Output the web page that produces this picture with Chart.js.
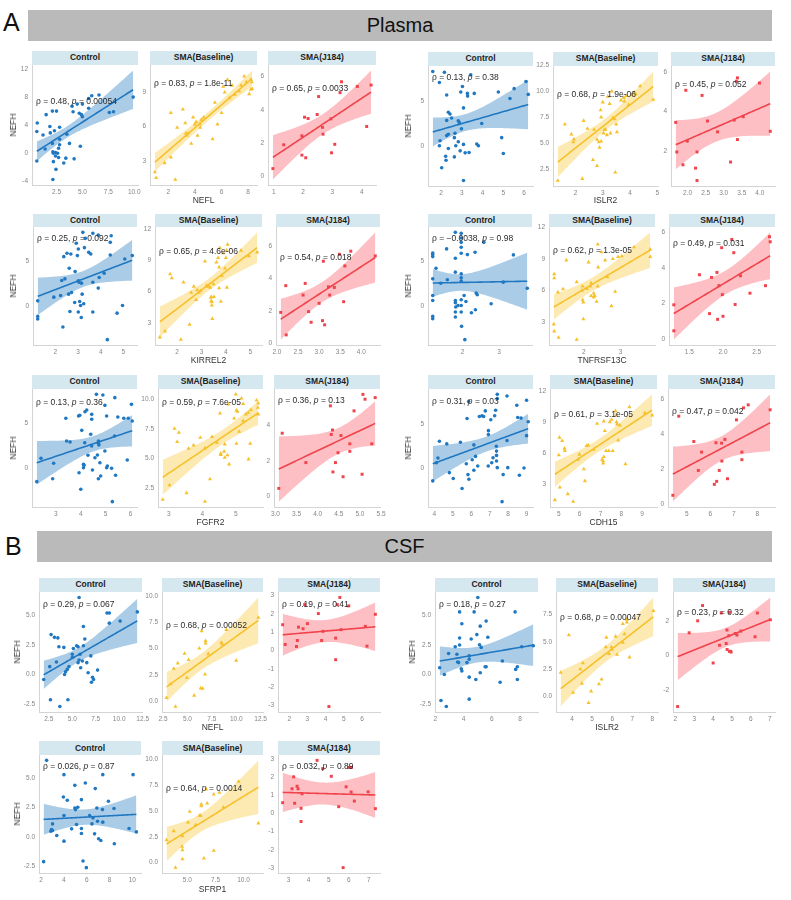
<!DOCTYPE html>
<html lang="en">
<head>
<meta charset="UTF-8">
<title>NEFH correlations - Plasma / CSF</title>
<script src="https://cdn.jsdelivr.net/npm/chart.js@4.4.1/dist/chart.umd.min.js"></script>
<style>
  html, body { margin: 0; padding: 0; background: #fff; }
  body { width: 791px; height: 900px; position: relative; overflow: hidden;
         font-family: 'Liberation Sans', Arial, sans-serif; }
  .banner { position: absolute; background: #bababa; color: #111; text-align: center;
            font-family: 'Liberation Sans Narrow', 'Liberation Sans', Arial, sans-serif; font-size: 20px; }
  .tag { position: absolute; font-family: 'Liberation Sans Narrow', 'Liberation Sans', Arial, sans-serif;
         font-size: 25px; color: #111; line-height: 1; }
  .strip { position: absolute; background: #d5e7ef; color: #1e1e1e; font-weight: bold;
           font-size: 8.5px; text-align: center; white-space: nowrap; }
  .axt { position: absolute; font-size: 8.5px; color: #333; white-space: nowrap;
         transform: translate(-50%, -50%); }
  .axt.rot { transform: translate(-50%, -50%) rotate(-90deg); }
  canvas { position: absolute; }
</style>
</head>
<body>
<div class="tag" style="left:3px;top:10px;">A</div>
<div class="banner" style="left:28px;top:10px;width:744px;height:31px;line-height:31px;">Plasma</div>
<div class="tag" style="left:5px;top:534px;">B</div>
<div class="banner" style="left:37px;top:531px;width:735px;height:31px;line-height:31px;">CSF</div>

<script>
// ---------- Plasma: NEFL ----------
const pNEFL_ctrl_x = [0.64,0.6,0.6,1.2,1.5,1.4,1.86,1.9,2.1,2.1,2.15,2.2,2.15,2.3,2.4,2.45,2.5,2.6,2.7,2.8,2.8,2.8,2.7,2.2,2.4,3.2,3.4,3.5,3.75,4.0,4.1,4.2,4.5,4.7,4.8,4.9,5.0,5.0,5.6,5.9,5.6,6.6,7.6,8.0,9.9];
const pNEFL_ctrl_y = [4.3,3.1,-1.1,2.6,5.5,0.6,3.8,2.9,6.0,1.4,0.2,-1.2,-3.75,3.2,-0.4,-2.3,6.0,0,-0.6,3.7,1.2,2.0,0.7,0,0.1,-1.4,-0.7,2.7,1.4,6.7,5.9,-0.8,7.0,5.7,1.0,5.5,7.0,5.2,6.4,8.2,7.8,8.3,5.8,5.9,8.0];
const pNEFL_base_x = [1.0,1.1,1.73,2.2,2.2,2.53,2.67,3.1,3.28,3.33,3.4,3.5,3.73,3.87,4.0,4.1,4.2,4.35,4.5,4.4,4.67,5.33,5.5,5.7,6.0,6.13,6.24,6.45,6.6,6.8,7.0,7.33,7.47,7.7,7.87,8.08,8.2,8.27,8.3,8.2];
const pNEFL_base_y = [2.0,1.5,2.8,7.2,3.3,1.35,5.9,7.5,6.3,5.4,5.2,5.4,4.5,6.8,6.2,6.4,5.2,6.2,6.6,5.9,6.8,4.9,8.1,6.2,7.2,9.5,9.0,10.1,8.5,9.6,8.8,9.1,9.6,10.4,9.9,8.85,9.25,9.9,9.3,10.1];
const pNEFL_j184_x = [0.97,1.34,1.96,2.09,1.96,2.05,2.17,2.48,2.66,2.68,2.53,2.95,2.97,3.08,3.26,3.31,3.85,4.17,4.32];
const pNEFL_j184_y = [0.47,1.9,1.28,1.12,2.44,3.56,3.48,3.72,2.95,2.54,4.8,3.46,1.42,1.93,5.04,5.69,5.41,3.0,5.49];
const pNEFL_rho = ['0.48', '0.83', '0.65'];
const pNEFL_p = ['0.00054', '1.8e-11', '0.0033'];
const pNEFL_xticks = [[2.5,5,7.5,10], [2,4,6,8], [1,2,3,4]];
const pNEFL_yticks = [[-4,0,4,8,12], [3,6,9], [0,2,4,6]];

// ---------- Plasma: ISLR2 ----------
const pISLR2_ctrl_x = [1.6,1.92,2.16,2.27,1.95,1.92,2.03,2.22,2.24,2.27,2.35,2.43,2.35,2.51,2.27,2.35,2.64,2.67,2.64,2.71,2.83,2.88,2.83,2.92,2.95,3.03,3.08,2.98,3.08,3.16,3.27,3.28,3.43,3.35,3.6,3.72,3.8,3.96,3.08,4.76,4.92,5.0,5.32,5.52,6.09,6.2];
const pISLR2_ctrl_y = [8.3,7.07,8.2,5.68,0.6,0.04,-2.4,-1.13,-1.58,2.86,3.76,3.57,-0.26,3.12,1.17,1.32,0.94,1.43,-1.2,0.04,2.82,2.63,0.49,-0.53,6.02,6.62,4.25,1.92,0.19,-0.75,5.86,5.56,7.93,-0.71,5.86,0.23,0.04,2.52,-3.83,6.02,0.94,-0.83,5.3,6.39,7.18,5.75];
const pISLR2_base_x = [1.35,1.61,1.85,1.92,1.94,2.25,2.3,2.44,2.64,2.68,2.79,2.79,2.85,2.88,2.92,2.94,2.94,3.0,3.03,3.06,3.1,3.15,3.18,3.25,3.28,3.37,3.43,3.49,3.52,3.46,3.67,3.77,3.79,3.85,3.95,4.06,4.15,4.21,4.37,4.85,3.33];
const pISLR2_base_y = [1.4,6.82,5.86,5.1,5.38,1.58,7.16,6.4,3.39,6.3,2.81,5.34,5.1,4.59,8.18,5.17,7.5,8.94,5.96,6.3,6.3,5.79,9.49,8.8,5.96,7.43,7.33,6.82,6.06,2.19,9.14,9.38,9.04,9.55,8.7,9.66,9.9,9.73,10.5,9.2,10.0];
const pISLR2_j184_x = [1.67,1.7,1.87,1.95,1.99,2.4,2.22,2.26,2.26,2.55,2.83,3.19,3.29,3.38,3.35,3.38,3.54,3.99,4.29];
const pISLR2_j184_y = [3.45,1.95,1.3,5.08,2.5,4.82,1.13,1.95,0.5,3.52,2.97,1.44,3.57,2.58,5.54,5.71,3.74,5.45,3.0];
const pISLR2_rho = ['0.13', '0.68', '0.45'];
const pISLR2_p = ['0.38', '1.9e-06', '0.052'];
const pISLR2_xticks = [[2,3,4,5,6], [2,3,4,5], [2,2.5,3,3.5,4]];
const pISLR2_yticks = [[0,5], [2.5,5,7.5,10,12.5], [2,4,6]];

// ---------- Plasma: KIRREL2 ----------
const pKIRREL2_ctrl_x = [1.22,1.22,1.22,1.93,2.23,2.28,2.42,2.37,2.51,2.33,2.61,2.58,2.64,2.68,2.71,2.87,2.85,2.92,2.97,3.01,3.01,3.01,3.04,3.07,3.11,3.14,3.15,3.18,3.21,3.25,3.28,3.32,3.47,3.56,3.65,3.65,3.65,3.89,3.93,3.89,4.15,4.29,4.42,4.46,4.42,4.72,4.96,5.06,5.39];
const pKIRREL2_ctrl_y = [0.56,-1.2,-1.5,0.98,1.17,2.86,3.05,5.56,5.94,-2.4,4.25,1.32,-0.64,5.86,1.5,3.87,0.38,7.07,5.68,2.82,6.43,-0.71,2.67,0.49,0.04,-1.32,2.56,1.32,8.31,0.23,6.58,7.63,6.05,5.86,8.2,2.67,-0.71,8.0,3.2,2.0,3.68,-3.83,7.18,7.93,5.75,-0.83,0.04,5.3,5.68];
const pKIRREL2_base_x = [1.29,1.5,1.71,1.78,2.15,2.26,2.51,2.57,2.68,2.78,2.82,2.89,2.96,3.14,3.21,3.26,3.35,3.38,3.4,3.4,3.42,3.44,3.42,3.49,3.51,3.61,3.68,3.72,3.72,3.79,3.75,3.83,3.89,3.96,4.0,4.03,4.04,4.07,4.62,4.94,5.28];
const pKIRREL2_base_y = [1.63,2.2,7.67,7.29,1.4,6.87,2.85,5.9,6.48,5.2,6.13,5.9,6.06,8.89,6.55,6.48,6.39,5.42,5.49,5.1,4.68,3.4,5.0,6.71,5.49,8.8,9.22,8.32,6.32,5.04,10.18,7.51,9.67,8.22,9.22,9.92,6.39,10.5,9.92,9.38,9.76];
const pKIRREL2_j184_x = [2.09,2.21,2.22,2.62,2.67,2.75,2.81,3.0,3.08,3.1,3.13,3.22,3.25,3.36,3.48,3.58,3.61,3.75,4.33];
const pKIRREL2_j184_y = [1.9,3.55,0.51,2.97,3.69,1.95,1.29,2.46,1.39,5.06,1.13,3.48,2.97,3.44,5.49,2.56,4.77,5.68,5.39];
const pKIRREL2_rho = ['0.25', '0.65', '0.54'];
const pKIRREL2_p = ['0.092', '4.6e-06', '0.018'];
const pKIRREL2_xticks = [[2,3,4,5], [2,3,4,5], [2,2.5,3,3.5,4]];
const pKIRREL2_yticks = [[0,5], [3,6,9,12], [0,2,4,6]];

// ---------- Plasma: TNFRSF13C ----------
const pTNF_ctrl_x = [1.18,1.18,1.18,1.18,1.18,1.18,1.18,1.18,1.27,1.4,1.58,1.56,1.8,1.8,1.8,1.8,1.8,1.81,1.8,1.8,1.87,1.96,1.96,1.96,1.96,1.96,1.96,1.96,1.96,1.96,1.96,1.96,1.97,2.04,2.06,2.09,2.13,2.24,2.34,2.35,2.37,2.4,2.58,2.78,3.11,3.39,3.77];
const pTNF_ctrl_y = [5.97,5.78,5.56,3.06,1.19,0.63,-1.16,-1.42,4.25,2.57,2.95,6.42,8.28,5.37,3.81,0.63,0.37,-0.11,-0.67,-1.23,0.07,8.17,7.65,7.16,6.6,5.93,3.62,3.17,2.8,0.71,0.07,-0.67,-2.28,1.19,-3.77,0.52,5.78,-0.75,6.04,-0.41,1.46,1.27,7.16,0.26,2.69,5.75,2.01];
const pTNF_base_x = [1.2,1.2,1.19,1.2,1.3,1.32,1.44,1.53,1.81,1.81,1.95,1.97,1.97,1.99,1.99,2.09,2.13,2.18,2.2,2.2,2.27,2.27,2.3,2.35,2.38,2.39,2.38,2.48,2.58,2.64,2.75,2.79,2.85,2.93,3.03,3.36,3.8,3.8];
const pTNF_base_y = [7.58,7.19,2.78,2.11,5.84,1.5,6.13,8.89,6.8,1.31,6.0,6.39,5.1,4.87,3.27,6.16,8.7,6.39,6.71,5.49,5.36,5.74,5.49,4.94,6.39,8.22,10.4,9.67,8.89,7.29,4.52,9.02,5.9,9.22,9.28,10.15,9.92,9.22];
const pTNF_j184_x = [1.27,1.27,1.65,1.8,1.83,1.91,1.92,1.94,1.98,1.99,2.0,2.13,2.16,2.18,2.26,2.4,2.63,2.69,2.7];
const pTNF_j184_y = [0.48,1.93,3.61,1.44,3.46,3.74,1.12,3.0,5.12,2.5,1.29,5.58,4.84,1.95,3.55,2.58,3.0,5.73,5.45];
const pTNF_rho = ['\u22120.0038', '0.62', '0.49'];
const pTNF_p = ['0.98', '1.3e-05', '0.031'];
const pTNF_xticks = [[2,3], [2,3], [1.5,2,2.5]];
const pTNF_yticks = [[0,5], [3,6,9,12], [0,2,4,6]];

// ---------- Plasma: FGFR2 ----------
const pFGFR2_ctrl_x = [2.23,2.4,2.87,2.91,3.4,3.43,3.57,3.91,3.96,3.93,4.0,4.04,4.11,4.11,4.13,4.16,4.17,4.24,4.29,4.4,4.44,4.44,4.44,4.47,4.63,4.57,4.67,4.71,4.71,4.73,4.71,4.8,4.77,4.89,4.97,4.97,5.04,5.07,5.04,5.24,5.27,5.36,5.37,5.4,5.49,5.73,5.87,5.91,6.04,6.07];
const pFGFR2_ctrl_y = [-1.49,1.12,-1.16,0.56,5.6,3.06,2.95,5.86,5.93,-0.49,-2.35,4.25,0.07,0.45,0.34,2.87,6.34,6.53,1.46,3.81,6.04,5.49,2.5,-0.19,8.28,1.19,1.49,2.8,3.06,2.61,-1.16,-0.86,0.63,8.21,7.05,1.94,5.86,0.26,0.07,0.0,-3.73,3.62,7.91,-0.78,5.75,5.6,0.93,5.6,7.16,5.3];
const pFGFR2_base_x = [2.82,3.02,3.17,3.25,3.3,3.53,3.59,3.74,3.94,4.08,4.08,4.23,4.29,4.44,4.53,4.55,4.55,4.67,4.65,4.67,4.75,4.8,4.78,4.95,5.0,5.02,5.02,5.05,5.1,5.17,5.22,5.22,5.3,5.38,5.37,5.43,5.45,5.62,5.66,5.67,5.67];
const pFGFR2_base_y = [1.53,2.76,7.52,6.4,7.18,2.09,5.84,6.12,6.76,5.87,1.36,3.26,6.82,6.34,8.81,5.42,5.31,6.2,5.59,5.08,5.28,4.52,9.57,8.39,10.41,9.06,6.26,8.95,7.27,10.07,9.62,8.17,8.73,4.94,8.87,6.26,9.09,9.9,9.29,9.65,8.73];
const pFGFR2_j184_x = [3.08,3.16,3.72,4.3,4.32,4.35,4.36,4.42,4.48,4.55,4.6,4.76,4.76,4.86,5.07,5.05,5.12,5.28,5.36];
const pFGFR2_j184_y = [0.46,3.54,1.9,5.07,3.47,3.72,1.38,1.9,2.45,3.41,1.11,2.95,2.53,4.79,5.71,1.25,5.44,2.95,5.53];
const pFGFR2_rho = ['0.13', '0.59', '0.36'];
const pFGFR2_p = ['0.36', '7.6e-05', '0.13'];
const pFGFR2_xticks = [[3,4,5,6], [3,4,5], [3,3.5,4,4.5,5,5.5]];
const pFGFR2_yticks = [[0,5], [2.5,5,7.5,10], [0,2,4]];

// ---------- Plasma: CDH15 ----------
const pCDH15_ctrl_x = [3.91,4.11,4.19,4.27,4.67,4.81,5.02,5.41,5.5,5.73,5.77,5.86,5.82,5.87,6.05,6.14,6.14,6.23,6.35,6.44,6.58,6.67,6.76,6.92,6.93,6.93,7.06,7.11,7.18,7.27,7.32,7.36,7.37,7.41,7.41,7.37,7.37,7.41,7.73,7.94,7.94,7.98,7.67,8.47,8.52,8.7,8.61,8.86,9.0,9.0,9.09];
const pCDH15_ctrl_y = [-1.47,0.6,1.13,3.05,2.74,-0.53,-1.2,2.93,-2.33,0.49,5.64,7.56,-0.75,-1.28,0.94,2.63,-0.26,1.32,0.23,5.86,5.94,5.86,6.5,0.23,4.25,3.8,5.49,0.6,1.17,5.94,6.58,2.48,1.92,8.38,7.89,1.43,0.79,0.04,-0.75,8.2,3.12,0.04,-3.83,7.14,5.75,5.68,-0.83,0.0,7.71,3.68,5.26];
const pCDH15_base_x = [4.81,5.0,5.03,5.05,5.16,5.29,5.27,5.43,5.69,5.93,5.99,6.2,6.25,6.33,6.41,6.68,6.84,7.08,7.13,7.16,7.13,7.16,7.21,7.27,7.4,7.45,7.53,7.59,7.77,7.72,7.75,7.8,7.85,7.93,8.2,8.39,9.13,9.48];
const pCDH15_base_y = [1.51,5.84,7.54,2.73,7.22,6.26,6.48,2.09,1.35,5.42,5.9,4.49,3.34,6.74,6.8,6.38,8.88,5.42,5.04,5.68,5.26,9.11,8.18,6.26,6.26,9.04,9.27,6.26,9.04,10.1,9.69,8.82,7.28,8.72,4.97,10.49,9.91,9.69];
const pCDH15_j184_x = [4.41,4.66,5.3,5.49,5.63,6.17,6.24,6.27,6.38,6.48,6.49,6.62,6.73,7.11,7.34,7.34,7.41,7.61,8.54];
const pCDH15_j184_y = [0.53,5.02,3.58,1.94,2.98,1.15,3.51,1.32,1.94,3.49,2.47,3.7,1.47,4.81,2.98,2.55,5.49,5.66,5.38];
const pCDH15_rho = ['0.31', '0.61', '0.47'];
const pCDH15_p = ['0.03', '3.1e-05', '0.042'];
const pCDH15_xticks = [[4,5,6,7,8,9], [5,6,7,8,9], [5,6,7,8]];
const pCDH15_yticks = [[0,5], [3,6,9,12], [0,2,4,6]];

// ---------- CSF: NEFL ----------
const cNEFL_ctrl_x = [1.96,2.61,2.75,2.68,3.11,3.47,3.32,3.58,3.68,4.11,4.18,4.29,4.54,4.47,4.65,5.01,5.01,5.12,5.47,5.62,5.73,5.73,5.62,5.83,5.9,6.08,6.19,6.19,6.34,6.55,6.69,6.98,7.05,7.16,7.27,7.7,8.7,8.95,8.95,10.1,11.93];
const cNEFL_ctrl_y = [-0.43,0.66,3.37,-2.14,3.14,3.09,1.06,2.34,-2.71,2.29,0.0,0.23,-2.14,0.43,0.66,1.43,1.71,2.2,2.43,2.34,6.51,1.23,1.0,1.71,0.57,1.14,2.43,4.06,3.0,1.0,0.14,1.57,-0.66,-0.23,-0.43,0.37,5.2,5.2,4.34,4.51,5.29];
const cNEFL_base_x = [2.87,3.27,3.61,3.78,4.01,4.71,4.95,5.12,5.69,6.22,6.36,6.56,6.46,6.86,6.86,6.8,7.13,8.47,8.57,8.98,10.0,12.27];
const cNEFL_base_y = [0.33,1.64,3.11,-0.49,3.61,4.52,2.23,3.93,0.56,5.02,1.25,1.21,6.66,5.74,5.51,2.56,4.49,5.57,5.41,6.79,3.87,7.93];
const cNEFL_j184_x = [1.64,1.78,2.4,2.45,2.51,2.76,2.85,3.0,3.6,3.78,3.85,4.18,4.55,4.55,4.64,4.78,4.85,5.27,6.18,6.27,6.73];
const cNEFL_j184_y = [1.41,0.33,0.22,0.55,1.28,1.19,2.51,1.47,2.02,0.55,1.05,-3.06,0.68,-0.5,2.51,2.9,1.14,2.44,1.32,0.24,1.98];
const cNEFL_rho = ['0.29', '0.68', '0.19'];
const cNEFL_p = ['0.067', '0.00052', '0.41'];
const cNEFL_xticks = [[2.5,5,7.5,10,12.5], [2.5,5,7.5,10,12.5], [2,3,4,5,6]];
const cNEFL_yticks = [[-2.5,0,2.5,5], [0,2.5,5,7.5,10], [-3,-2,-1,0,1,2,3]];

// ---------- CSF: ISLR2 ----------
const cISLR2_ctrl_x = [2.31,2.4,2.64,2.78,2.94,3.41,3.53,3.58,3.65,3.72,3.72,3.72,3.88,3.84,3.88,4.24,4.4,4.4,4.4,4.4,4.54,4.75,4.87,4.94,5.01,5.13,5.18,5.18,5.25,5.53,5.6,5.6,5.72,6.59,6.75,7.65,7.69,7.81,7.81,8.12,8.94];
const cISLR2_ctrl_y = [0.57,-2.21,0.0,-2.73,1.78,2.36,1.72,1.06,1.01,5.32,3.1,2.5,4.31,0.49,0.29,1.01,1.58,1.29,-0.23,-2.1,3.02,5.32,-0.43,3.39,6.55,2.53,4.11,0.14,2.3,0.66,0.66,4.54,3.16,-0.66,1.15,5.32,0.43,0.66,-0.43,2.36,2.44];
const cISLR2_base_x = [3.43,3.84,4.05,4.41,4.54,4.49,4.82,4.95,5.34,5.47,5.68,5.71,5.84,5.96,5.99,6.17,6.24,6.53,6.53,6.61,6.73,6.73,6.86,8.05];
const cISLR2_base_y = [2.16,5.61,0.31,2.48,3.04,1.16,-0.63,0.44,1.1,1.54,4.51,5.39,3.89,4.51,4.29,5.49,3.82,4.92,6.65,5.71,6.8,7.05,3.57,7.84];
const cISLR2_j184_x = [2.12,2.73,3.18,3.44,4.0,4.34,4.43,4.69,4.73,4.74,4.83,4.86,4.92,4.86,4.95,5.18,5.26,5.47,6.22,6.34,7.03];
const cISLR2_j184_y = [-2.94,1.31,2.0,2.88,-0.43,0.59,2.45,0.69,1.47,0.35,1.14,0.24,0.24,2.49,0.2,1.27,1.18,1.41,1.08,2.45,2.06];
const cISLR2_rho = ['0.18', '0.68', '0.23'];
const cISLR2_p = ['0.27', '0.00047', '0.32'];
const cISLR2_xticks = [[2,4,6,8], [4,5,6,7,8], [2,3,4,5,6,7]];
const cISLR2_yticks = [[-2.5,0,2.5,5], [0,2.5,5,7.5], [-2,0,2]];

// ---------- CSF: SFRP1 ----------
const cSFRP1_ctrl_x = [2.23,2.49,2.86,3.01,3.01,2.92,3.38,3.96,4.01,4.01,4.01,4.3,4.68,4.96,5.02,4.96,5.11,5.22,5.54,5.54,5.54,5.68,5.88,5.97,6.26,6.46,6.55,6.69,6.75,6.89,6.95,7.04,7.24,7.38,7.41,7.41,7.9,8.39,8.42,9.71,10.06,10.35];
const cSFRP1_ctrl_y = [-2.12,6.52,0.48,1.1,0.54,0.62,0.11,3.4,5.3,-0.37,1.81,3.12,0.68,2.46,2.32,4.39,1.05,2.52,0.71,0.28,3.17,-2.07,4.59,-2.63,1.81,1.1,1.61,0.25,4.11,2.46,1.33,-0.17,-0.31,2.32,1.25,5.3,3.03,2.41,-0.59,0.71,5.3,0.42];
const cSFRP1_base_x = [3.15,3.79,3.94,4.56,4.53,4.56,4.56,5.06,5.21,5.74,6.09,6.18,6.24,6.24,6.47,6.76,6.68,7.35,7.35,7.85,8.21,9.56,11.32];
const cSFRP1_base_y = [2.19,3.06,-0.48,2.58,1.55,1.23,0.35,3.9,4.94,3.65,4.55,4.55,5.48,5.65,0.42,5.74,7.1,6.61,1.16,6.77,5.35,7.84,3.81];
const cSFRP1_j184_x = [2.7,3.17,3.25,3.3,3.42,3.47,3.62,3.62,3.67,4.42,4.7,5.13,5.5,5.72,5.87,6.0,6.13,6.12,6.28,6.97,7.33];
const cSFRP1_j184_y = [0.6,1.37,2.03,0.57,1.51,1.37,0.29,-0.44,1.09,2.94,2.48,2.06,0.38,-2.99,1.48,2.55,2.55,1.19,0.69,1.2,0.27];
const cSFRP1_rho = ['0.026', '0.64', '0.032'];
const cSFRP1_p = ['0.87', '0.0014', '0.89'];
const cSFRP1_xticks = [[2,4,6,8,10], [5,7.5,10], [3,4,5,6,7]];
const cSFRP1_yticks = [[-2.5,0,2.5,5], [0,2.5,5,7.5,10], [-3,-2,-1,0,1,2,3]];

const stripNames = ['Control', 'SMA(Baseline)', 'SMA(J184)'];
const yName = 'NEFH';

// marker / colour per group (Control, Baseline, J184)
const looks = [
  { shape: 'circle',   r: 1.8, color: '#1f78c1', band: 'rgba(31,120,193,0.38)' },
  { shape: 'triangle', r: 2.4, color: '#f6c12c', band: 'rgba(250,198,45,0.36)' },
  { shape: 'rect',     r: 2.1, color: '#f0434c', band: 'rgba(248,68,78,0.34)' }
];

// layout of each block of three panels
const blocks = [
  { xName: 'NEFL', xs: [pNEFL_ctrl_x, pNEFL_base_x, pNEFL_j184_x], ys: [pNEFL_ctrl_y, pNEFL_base_y, pNEFL_j184_y],
    rho: pNEFL_rho, p: pNEFL_p, xt: pNEFL_xticks, yt: pNEFL_yticks, labelY: [7.3, 9.75, 5.28],
    lefts: [32, 150, 268], rights: [138, 257, 376], stripTop: 51, plotTop: 64.5, plotBottom: 184.5, xTitleY: 199.5, yTitleX: 13 },
  { xName: 'ISLR2', xs: [pISLR2_ctrl_x, pISLR2_base_x, pISLR2_j184_x], ys: [pISLR2_ctrl_y, pISLR2_base_y, pISLR2_j184_y],
    rho: pISLR2_rho, p: pISLR2_p, xt: pISLR2_xticks, yt: pISLR2_yticks, labelY: [7.63, 9.66, 5.37],
    lefts: [428, 553, 671], rights: [533, 658, 775], stripTop: 52, plotTop: 65.5, plotBottom: 185.5, xTitleY: 200, yTitleX: 408 },
  { xName: 'KIRREL2', xs: [pKIRREL2_ctrl_x, pKIRREL2_base_x, pKIRREL2_j184_x], ys: [pKIRREL2_ctrl_y, pKIRREL2_base_y, pKIRREL2_j184_y],
    rho: pKIRREL2_rho, p: pKIRREL2_p, xt: pKIRREL2_xticks, yt: pKIRREL2_yticks, labelY: [7.63, 9.83, 5.29],
    lefts: [33, 155, 276], rights: [137, 262, 380], stripTop: 214, plotTop: 227, plotBottom: 345, xTitleY: 360, yTitleX: 13 },
  { xName: 'TNFRSF13C', xs: [pTNF_ctrl_x, pTNF_base_x, pTNF_j184_x], ys: [pTNF_ctrl_y, pTNF_base_y, pTNF_j184_y],
    rho: pTNF_rho, p: pTNF_p, xt: pTNF_xticks, yt: pTNF_yticks, labelY: [7.61, 9.83, 5.36],
    lefts: [428, 549, 669], rights: [532, 655, 775], stripTop: 214, plotTop: 227, plotBottom: 345, xTitleY: 360, yTitleX: 408 },
  { xName: 'FGFR2', xs: [pFGFR2_ctrl_x, pFGFR2_base_x, pFGFR2_j184_x], ys: [pFGFR2_ctrl_y, pFGFR2_base_y, pFGFR2_j184_y],
    rho: pFGFR2_rho, p: pFGFR2_p, xt: pFGFR2_xticks, yt: pFGFR2_yticks, labelY: [7.35, 9.7, 5.35],
    lefts: [32, 158, 274], rights: [137, 263, 380], stripTop: 375, plotTop: 388.5, plotBottom: 507, xTitleY: 522, yTitleX: 13 },
  { xName: 'CDH15', xs: [pCDH15_ctrl_x, pCDH15_base_x, pCDH15_j184_x], ys: [pCDH15_ctrl_y, pCDH15_base_y, pCDH15_j184_y],
    rho: pCDH15_rho, p: pCDH15_p, xt: pCDH15_xticks, yt: pCDH15_yticks, labelY: [7.52, 9.75, 5.25],
    lefts: [428, 550, 668], rights: [533, 657, 775], stripTop: 375, plotTop: 388.5, plotBottom: 507, xTitleY: 522, yTitleX: 408 },
  { xName: 'NEFL', xs: [cNEFL_ctrl_x, cNEFL_base_x, cNEFL_j184_x], ys: [cNEFL_ctrl_y, cNEFL_base_y, cNEFL_j184_y],
    rho: cNEFL_rho, p: cNEFL_p, xt: cNEFL_xticks, yt: cNEFL_yticks, labelY: [5.91, 7.15, 2.51],
    lefts: [39, 162, 278], rights: [142, 263, 380], stripTop: 578, plotTop: 591.5, plotBottom: 711.5, xTitleY: 727, yTitleX: 17 },
  { xName: 'ISLR2', xs: [cISLR2_ctrl_x, cISLR2_base_x, cISLR2_j184_x], ys: [cISLR2_ctrl_y, cISLR2_base_y, cISLR2_j184_y],
    rho: cISLR2_rho, p: cISLR2_p, xt: cISLR2_xticks, yt: cISLR2_yticks, labelY: [5.95, 7.18, 2.49],
    lefts: [435, 556, 673], rights: [538, 658, 775], stripTop: 578, plotTop: 591.5, plotBottom: 711.5, xTitleY: 727, yTitleX: 412 },
  { xName: 'SFRP1', xs: [cSFRP1_ctrl_x, cSFRP1_base_x, cSFRP1_j184_x], ys: [cSFRP1_ctrl_y, cSFRP1_base_y, cSFRP1_j184_y],
    rho: cSFRP1_rho, p: cSFRP1_p, xt: cSFRP1_xticks, yt: cSFRP1_yticks, labelY: [5.95, 7.19, 2.57],
    lefts: [39, 162, 278], rights: [141, 263, 380], stripTop: 741, plotTop: 755, plotBottom: 873, xTitleY: 889, yTitleX: 17 }
];

// space around the plot area inside each canvas
const YW = 30, XH = 14, PT = 6, PR = 8;
const FONT = '"Liberation Sans", Arial, sans-serif';
Chart.defaults.font.family = FONT;

// 95% t quantile (Cornish-Fisher expansion)
function tCrit(df) {
  const z = 1.959964;
  return z + (z ** 3 + z) / (4 * df) + (5 * z ** 5 + 16 * z ** 3 + 3 * z) / (96 * df * df)
    + (3 * z ** 7 + 19 * z ** 5 + 17 * z ** 3 - 15 * z) / (384 * df ** 3);
}

// lm fit with 95% confidence band, like geom_smooth(method = "lm")
function lmBand(xs, ys) {
  const n = xs.length;
  const mx = xs.reduce((a, b) => a + b, 0) / n;
  const my = ys.reduce((a, b) => a + b, 0) / n;
  let sxx = 0, sxy = 0;
  for (let i = 0; i < n; i++) { sxx += (xs[i] - mx) ** 2; sxy += (xs[i] - mx) * (ys[i] - my); }
  const b = sxy / sxx, a = my - b * mx;
  let sse = 0;
  for (let i = 0; i < n; i++) sse += (ys[i] - a - b * xs[i]) ** 2;
  const s = Math.sqrt(sse / (n - 2)), t = tCrit(n - 2);
  const lo = Math.min(...xs), hi = Math.max(...xs);
  const line = [], upper = [], lower = [];
  for (let i = 0; i <= 60; i++) {
    const x = lo + (hi - lo) * i / 60;
    const yh = a + b * x;
    const w = t * s * Math.sqrt(1 / n + (x - mx) ** 2 / sxx);
    line.push({ x, y: yh });
    upper.push({ x, y: yh + w });
    lower.push({ x, y: yh - w });
  }
  return { line, upper, lower };
}

function expand(lo, hi) {
  const d = (hi - lo) * 0.05;
  return [lo - d, hi + d];
}

function fmt(ticks) {
  const dec = ticks.some(v => !Number.isInteger(v)) ? 1 : 0;
  return v => v.toFixed(dec);
}

const corrLabel = {
  id: 'corrLabel',
  afterDatasetsDraw(chart, args, opts) {
    const { ctx, chartArea, scales } = chart;
    const y = scales.y.getPixelForValue(opts.y);
    let x = chartArea.left + 4;
    ctx.save();
    ctx.fillStyle = '#2a2a2a';
    ctx.textBaseline = 'middle';
    const parts = [['\u03c1 = ' + opts.rho + ', ', ''], ['p', 'italic '], [' = ' + opts.p, '']];
    parts.forEach(([txt, st]) => {
      ctx.font = st + '8.5px ' + FONT;
      ctx.fillText(txt, x, y);
      x += ctx.measureText(txt).width;
    });
    ctx.restore();
  }
};

function addDiv(cls, text, css) {
  const d = document.createElement('div');
  d.className = cls;
  d.textContent = text;
  Object.assign(d.style, css);
  document.body.appendChild(d);
  return d;
}

function drawPanel(blk, k) {
  const xs = blk.xs[k], ys = blk.ys[k], look = looks[k];
  const left = Math.round(blk.lefts[k]), right = Math.round(blk.rights[k]);
  const top = Math.round(blk.plotTop), bottom = Math.round(blk.plotBottom);

  addDiv('strip', stripNames[k], {
    left: left + 'px', width: (right - left) + 'px', top: blk.stripTop + 'px',
    height: (blk.plotTop - blk.stripTop) + 'px', lineHeight: (blk.plotTop - blk.stripTop) + 'px'
  });

  const cv = document.createElement('canvas');
  cv.width = right - left + YW + PR;
  cv.height = bottom - top + PT + XH;
  cv.style.left = (left - YW) + 'px';
  cv.style.top = (top - PT) + 'px';
  document.body.appendChild(cv);

  const fit = lmBand(xs, ys);
  const xr = expand(Math.min(...xs), Math.max(...xs));
  const allY = ys.concat(fit.upper.map(d => d.y), fit.lower.map(d => d.y));
  const yr = expand(Math.min(...allY), Math.max(...allY));
  const xt = blk.xt[k], yt = blk.yt[k];

  const axisCommon = {
    type: 'linear',
    grid: { display: false, drawTicks: false },
    border: { display: true, color: '#d4d4d4', width: 1 },
  };

  new Chart(cv, {
    type: 'scatter',
    data: {
      datasets: [
        { data: xs.map((x, i) => ({ x, y: ys[i] })), pointStyle: look.shape, pointRadius: look.r,
          backgroundColor: look.color, borderColor: look.color, borderWidth: 0 },
        { type: 'line', data: fit.line, borderColor: look.color, borderWidth: 1.6, pointRadius: 0, fill: false },
        { type: 'line', data: fit.lower, borderColor: 'rgba(0,0,0,0)', borderWidth: 0, pointRadius: 0, fill: false },
        { type: 'line', data: fit.upper, borderColor: 'rgba(0,0,0,0)', borderWidth: 0, pointRadius: 0,
          fill: '-1', backgroundColor: look.band }
      ]
    },
    options: {
      responsive: false,
      animation: false,
      events: [],
      layout: { padding: { top: PT, right: PR, left: 0, bottom: 0 } },
      plugins: {
        legend: { display: false },
        tooltip: { enabled: false },
        corrLabel: { rho: blk.rho[k], p: blk.p[k], y: blk.labelY[k] }
      },
      scales: {
        x: Object.assign({}, axisCommon, {
          min: xr[0], max: xr[1],
          ticks: { font: { size: 6.5 }, color: '#858585', padding: 3, maxRotation: 0, autoSkip: false, callback: fmt(xt) },
          afterBuildTicks: s => { s.ticks = xt.map(v => ({ value: v })); },
          afterFit: s => { s.height = XH; s.paddingLeft = 0; s.paddingRight = 0; }
        }),
        y: Object.assign({}, axisCommon, {
          min: yr[0], max: yr[1],
          ticks: { font: { size: 6.5 }, color: '#858585', padding: 4, autoSkip: false, callback: fmt(yt) },
          afterBuildTicks: s => { s.ticks = yt.map(v => ({ value: v })); },
          afterFit: s => { s.width = YW; s.paddingTop = 0; s.paddingBottom = 0; }
        })
      }
    },
    plugins: [corrLabel]
  });
}

blocks.forEach(blk => {
  for (let k = 0; k < 3; k++) drawPanel(blk, k);
  addDiv('axt', blk.xName, {
    left: ((blk.lefts[1] + blk.rights[1]) / 2) + 'px', top: blk.xTitleY + 'px'
  });
  addDiv('axt rot', yName, {
    left: blk.yTitleX + 'px', top: ((blk.plotTop + blk.plotBottom) / 2) + 'px'
  });
});
</script>
</body>
</html>
